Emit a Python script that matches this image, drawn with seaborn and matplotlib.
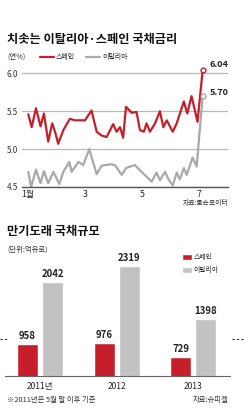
import matplotlib
matplotlib.use("Agg")
import matplotlib.pyplot as plt
from matplotlib.lines import Line2D
import seaborn as sns
import pandas as pd

# 국채금리 (x: 월 위치, y: 연%)
spain_month = [1.01, 1.13, 1.28, 1.44, 1.56, 1.71, 1.85, 1.95, 2.06, 2.24, 2.47, 2.65, 3.00,
               3.23, 3.41, 3.58, 3.76, 3.99, 4.11, 4.23, 4.34, 4.44, 4.64, 4.81, 4.93, 5.07,
               5.16, 5.28, 5.46, 5.63, 5.75, 5.87, 6.08, 6.22, 6.47, 6.59, 6.74, 6.95, 7.13]
spain_rate = [5.46, 5.29, 5.54, 5.30, 5.47, 5.10, 5.34, 5.23, 5.07, 5.25, 5.40, 5.38, 5.38,
              5.51, 5.23, 5.18, 5.16, 5.33, 5.23, 5.29, 5.15, 5.56, 5.48, 5.49, 5.25, 5.23,
              5.34, 5.23, 5.34, 5.50, 5.29, 5.38, 5.23, 5.34, 5.63, 5.47, 5.70, 5.36, 6.04]
italy_month = [1.01, 1.11, 1.28, 1.44, 1.56, 1.71, 1.89, 2.10, 2.24, 2.45, 2.53, 2.77, 2.94,
               3.15, 3.41, 3.58, 3.88, 4.05, 4.29, 4.44, 4.75, 4.93, 5.34, 5.51, 5.63, 5.81,
               5.92, 6.08, 6.22, 6.33, 6.47, 6.57, 6.78, 6.92, 7.13]
italy_rate = [4.70, 4.50, 4.73, 4.55, 4.71, 4.55, 4.70, 4.54, 4.70, 4.83, 4.70, 4.83, 4.79,
              5.00, 4.67, 4.78, 4.80, 4.79, 4.66, 4.75, 4.79, 4.72, 4.57, 4.69, 4.59, 4.70,
              4.61, 4.52, 4.69, 4.60, 4.75, 4.66, 4.89, 4.77, 5.70]

month_ticks = [1, 3, 5, 7]
month_labels = ["1월", "3", "5", "7"]
rate_ticks = [4.5, 5.0, 5.5, 6.0]

# 만기도래 국채규모 (억유로)
years = ["2011년", "2012", "2013"]
spain_debt = [958, 976, 729]
italy_debt = [2042, 2319, 1398]

RED = "#c61f2b"
LINE_GRAY = "#a9a9a9"
BAR_GRAY = "#c2c2c2"

sns.set_theme(style="white")
plt.rcParams["font.family"] = ["Noto Sans CJK KR", "DejaVu Sans"]

W, H = 244, 418
fig = plt.figure(figsize=(W / 100, H / 100), dpi=100)


def fx(px):
    return px / W


def fy(py):
    return 1 - py / H


# ---------------- 금리 라인 차트
rates = pd.concat([
    pd.DataFrame({"month": spain_month, "rate": spain_rate, "country": "스페인"}),
    pd.DataFrame({"month": italy_month, "rate": italy_rate, "country": "이탈리아"}),
])

ax1 = fig.add_axes([fx(22), fy(187), fx(206), 125 / H])
sns.lineplot(data=rates, x="month", y="rate", hue="country", palette=[RED, LINE_GRAY],
             estimator=None, sort=False, linewidth=1.6, ax=ax1)
ax1.plot([spain_month[-1]], [spain_rate[-1]], "o", ms=3.5, mfc="white", mec=RED, mew=1, zorder=5)
ax1.plot([italy_month[-1]], [italy_rate[-1]], "o", ms=3.5, mfc="white", mec=LINE_GRAY, mew=1, zorder=5)
ax1.annotate(f"{spain_rate[-1]:.2f}", (spain_month[-1], spain_rate[-1]), xytext=(5, 4.5),
             textcoords="offset points", fontsize=6.5, fontweight="bold", va="center", color="#222")
ax1.annotate(f"{italy_rate[-1]:.2f}", (italy_month[-1], italy_rate[-1]), xytext=(5, 2.5),
             textcoords="offset points", fontsize=6.5, fontweight="bold", va="center", color="#222")

ax1.set_xlim(0.79, 8.02)
ax1.set_ylim(4.5, 6.15)
ax1.set_xticks(month_ticks, month_labels)
ax1.set_yticks(rate_ticks, [f"{v:.1f}" for v in rate_ticks])
ax1.set_xlabel("")
ax1.set_ylabel("")
ax1.yaxis.grid(True, color="#b8b8b8", linewidth=0.9)
ax1.set_axisbelow(True)
for s in ["top", "right", "left"]:
    ax1.spines[s].set_visible(False)
ax1.spines["bottom"].set_color("#555555")
ax1.spines["bottom"].set_linewidth(1)
ax1.tick_params(axis="y", length=0, pad=3, labelsize=5.8, labelcolor="#333")
ax1.tick_params(axis="x", direction="in", length=3, width=0.8, color="#555", pad=2,
                labelsize=6.3, labelcolor="#222")
sns.move_legend(ax1, loc="center left", bbox_to_anchor=(fx(40), fy(57)),
                bbox_transform=fig.transFigure, ncol=2, title=None, frameon=False,
                fontsize=5, handlelength=2.0, handletextpad=0.3, columnspacing=1.6,
                borderpad=0, borderaxespad=0)

fig.text(fx(7), fy(40), "치솟는 이탈리아·스페인 국채금리", fontsize=8.8, fontweight="bold",
         va="center", color="#111")
fig.text(fx(7), fy(57), "(연%)", fontsize=5.3, va="center", color="#333")
fig.text(fx(228), fy(203), "자료:톰슨로이터", fontsize=4.9, ha="right", va="center", color="#333")

# ---------------- 만기도래 국채규모 막대 차트
debt = pd.DataFrame({
    "year": years * 2,
    "amount": spain_debt + italy_debt,
    "country": ["스페인"] * 3 + ["이탈리아"] * 3,
})

ax2 = fig.add_axes([fx(5), fy(376), fx(225), 126 / H])
sns.barplot(data=debt, x="year", y="amount", hue="country", palette=[RED, BAR_GRAY],
            width=0.66, gap=0.17, saturation=1, ax=ax2)
for cont in ax2.containers:
    ax2.bar_label(cont, fmt="%d", padding=2, fontsize=6.9, fontweight="bold", color="#222")

ax2.set_xlim(-0.458, 2.48)
ax2.set_ylim(397, 2600)
ax2.set_yticks([])
ax2.set_xlabel("")
ax2.set_ylabel("")
for s in ["top", "right", "left"]:
    ax2.spines[s].set_visible(False)
ax2.spines["bottom"].set_color("#666666")
ax2.spines["bottom"].set_linewidth(0.8)
ax2.tick_params(axis="x", length=0, pad=4, labelsize=6.1, labelcolor="#222")
sns.move_legend(ax2, loc="upper left", bbox_to_anchor=(fx(182), fy(253)),
                bbox_transform=fig.transFigure, title=None, frameon=False, fontsize=4.9,
                handlelength=1.45, handleheight=1.0, handletextpad=0.3, labelspacing=0.75,
                borderpad=0, borderaxespad=0)

fig.text(fx(7), fy(232), "만기도래 국채규모", fontsize=8.8, fontweight="bold", va="center", color="#111")
fig.text(fx(7), fy(250), "(단위:억유로)", fontsize=5.3, va="center", color="#333")
fig.text(fx(7), fy(400), "※2011년은 5월 말 이후 기준", fontsize=5.3, va="center", color="#333")
fig.text(fx(228), fy(400), "자료:슈피겔", fontsize=5.3, ha="right", va="center", color="#333")

# 지면 재단선
for x0, x1 in [(0, 8), (232, 244)]:
    fig.add_artist(Line2D([fx(x0), fx(x1)], [fy(339), fy(339)], transform=fig.transFigure,
                          linestyle=(0, (2, 2)), color="#333", linewidth=0.8))

fig.savefig("out.png", dpi=100)
